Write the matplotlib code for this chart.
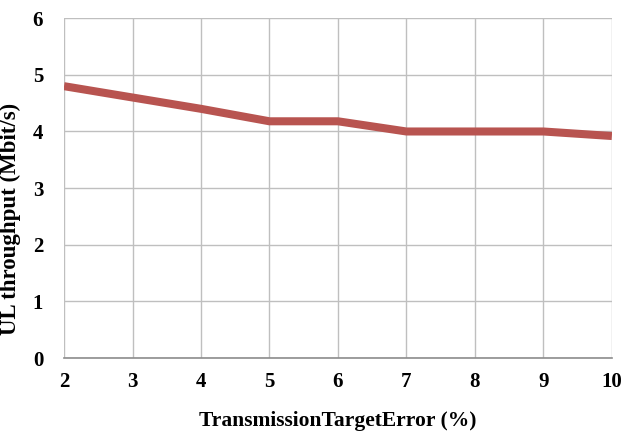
import matplotlib
matplotlib.use("Agg")
import matplotlib.pyplot as plt

x_values = [2, 3, 4, 5, 6, 7, 8, 9, 10]
throughput = [4.8, 4.6, 4.4, 4.18, 4.18, 4.0, 4.0, 4.0, 3.92]
y_ticks = [0, 1, 2, 3, 4, 5, 6]

plt.rcParams['font.family'] = ['Liberation Serif', 'DejaVu Serif']
plt.rcParams['font.weight'] = 'bold'

fig = plt.figure(figsize=(6.24, 4.33), dpi=100)
ax = fig.add_axes([0.1026, 0.173, 0.878, 0.785])

ax.plot(x_values, throughput, color='#B85450', linewidth=5.8, solid_capstyle='butt', zorder=3)

ax.set_xlim(2, 10)
ax.set_ylim(0, 6)
ax.set_xticks(x_values)
ax.set_yticks(y_ticks)
ax.grid(True, color='#BFBFBF', linewidth=1.0, zorder=0)
ax.set_axisbelow(True)
for s in ['top', 'right', 'left']:
    ax.spines[s].set_visible(False)
ax.spines['bottom'].set_color('#8C8C8C')
ax.spines['bottom'].set_linewidth(1.2)
ax.tick_params(length=0, labelsize=15, pad=10)
ax.tick_params(axis='y', pad=15)
for lab in ax.get_xticklabels() + ax.get_yticklabels():
    lab.set_fontweight('bold')

ax.set_xlabel('TransmissionTargetError (%)', fontsize=15.5, fontweight='bold', labelpad=14)
ax.set_ylabel('UL throughput (Mbit/s)', fontsize=16.5, fontweight='bold')
ax.yaxis.set_label_coords(-0.078, 0.41)

fig.savefig('out.png', dpi=100)
